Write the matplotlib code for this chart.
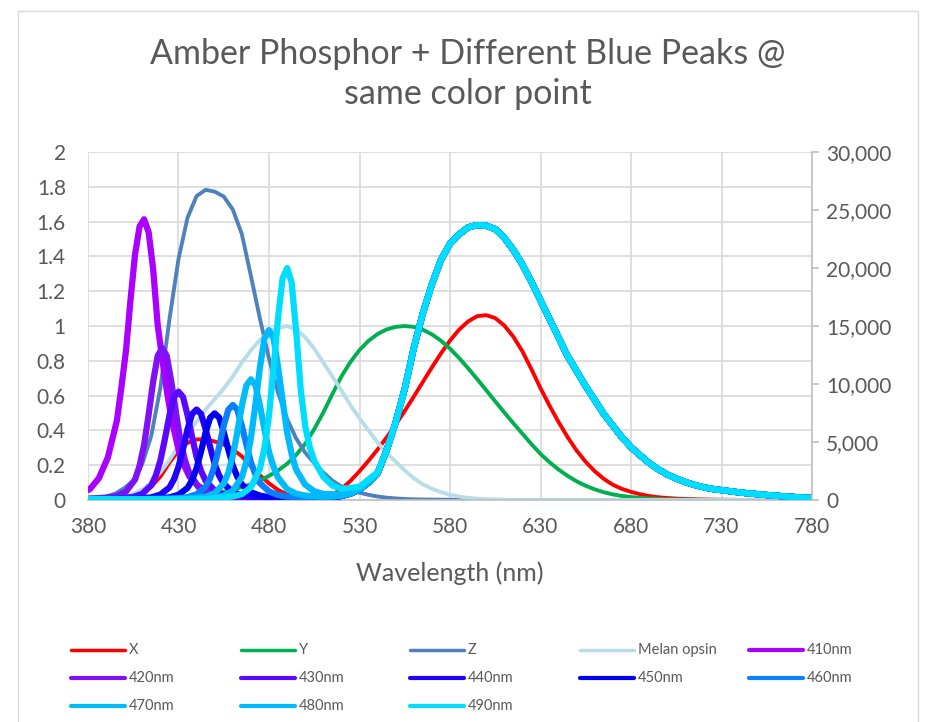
import matplotlib.pyplot as plt
import numpy as np
from matplotlib.lines import Line2D
from matplotlib.patches import Rectangle

plt.rcParams['font.family'] = ['Lato', 'DejaVu Sans']

GREY_TXT = '#595959'
GRID = '#D9D9D9'
AXIS = '#BFBFBF'

# wavelength grid of the broad curves (nm)
wavelength = np.arange(380, 781, 5)

# CIE colour matching functions (left axis)
cie_x = [0.0014, 0.0022, 0.0042, 0.0077, 0.0143, 0.0232, 0.0435, 0.0776, 0.1344, 0.2148,
         0.2839, 0.3285, 0.3483, 0.3481, 0.3362, 0.3187, 0.2908, 0.2511, 0.1954, 0.1421,
         0.0956, 0.0580, 0.0320, 0.0147, 0.0049, 0.0024, 0.0093, 0.0291, 0.0633, 0.1096,
         0.1655, 0.2258, 0.2904, 0.3597, 0.4335, 0.5121, 0.5945, 0.6784, 0.7621, 0.8425,
         0.9163, 0.9786, 1.0263, 1.0567, 1.0622, 1.0456, 1.0026, 0.9384, 0.8545, 0.7514,
         0.6424, 0.5419, 0.4479, 0.3608, 0.2835, 0.2187, 0.1649, 0.1212, 0.0874, 0.0636,
         0.0468, 0.0329, 0.0227, 0.0158, 0.0114, 0.0081, 0.0058, 0.0041, 0.0029, 0.0020,
         0.0014, 0.0010, 0.0007, 0.0005, 0.0003, 0.0002, 0.0002, 0.0001, 0.0001, 0.0001,
         0.0000]
cie_y = [0.0000, 0.0001, 0.0001, 0.0002, 0.0004, 0.0006, 0.0012, 0.0022, 0.0040, 0.0073,
         0.0116, 0.0168, 0.0230, 0.0298, 0.0380, 0.0480, 0.0600, 0.0739, 0.0910, 0.1126,
         0.1390, 0.1693, 0.2080, 0.2586, 0.3230, 0.4073, 0.5030, 0.6082, 0.7100, 0.7932,
         0.8620, 0.9149, 0.9540, 0.9803, 0.9950, 1.0000, 0.9950, 0.9786, 0.9520, 0.9154,
         0.8700, 0.8163, 0.7570, 0.6949, 0.6310, 0.5668, 0.5030, 0.4412, 0.3810, 0.3210,
         0.2650, 0.2170, 0.1750, 0.1382, 0.1070, 0.0816, 0.0610, 0.0446, 0.0320, 0.0232,
         0.0170, 0.0119, 0.0082, 0.0057, 0.0041, 0.0029, 0.0021, 0.0015, 0.0010, 0.0007,
         0.0005, 0.0004, 0.0002, 0.0002, 0.0001, 0.0001, 0.0001, 0.0000, 0.0000, 0.0000,
         0.0000]
cie_z = [0.0065, 0.0106, 0.0201, 0.0362, 0.0679, 0.1102, 0.2074, 0.3713, 0.6456, 1.0391,
         1.3856, 1.6230, 1.7471, 1.7826, 1.7721, 1.7441, 1.6692, 1.5281, 1.2876, 1.0419,
         0.8130, 0.6162, 0.4652, 0.3533, 0.2720, 0.2123, 0.1582, 0.1117, 0.0783, 0.0573,
         0.0422, 0.0298, 0.0203, 0.0134, 0.0088, 0.0058, 0.0039, 0.0028, 0.0021, 0.0018,
         0.0017, 0.0014, 0.0011, 0.0010, 0.0008, 0.0006, 0.0003, 0.0002, 0.0002, 0.0001,
         0.0001, 0.0000, 0.0000, 0.0000, 0.0000, 0.0000, 0.0000, 0.0000, 0.0000, 0.0000,
         0.0000, 0.0000, 0.0000, 0.0000, 0.0000, 0.0000, 0.0000, 0.0000, 0.0000, 0.0000,
         0.0000, 0.0000, 0.0000, 0.0000, 0.0000, 0.0000, 0.0000, 0.0000, 0.0000, 0.0000,
         0.0000]
melanopsin = [0.0, 0.005, 0.01, 0.015, 0.02, 0.035, 0.06, 0.10, 0.16, 0.23,
              0.31, 0.38, 0.45, 0.52, 0.58, 0.64, 0.71, 0.79, 0.86, 0.92,
              0.965, 0.99, 1.0, 0.98, 0.935, 0.87, 0.79, 0.71, 0.63, 0.545,
              0.47, 0.40, 0.33, 0.27, 0.22, 0.17, 0.125, 0.09, 0.065, 0.045,
              0.03, 0.02, 0.012, 0.008, 0.005, 0.003, 0.002] + [0.0] * 34

# amber phosphor part, shared by every spectrum (right axis)
phosphor = [80] * 21 + [
    90, 110, 130, 150, 170, 200, 250, 350, 550, 900,
    1500, 2300, 4300, 6700, 9600, 13100, 16100, 18600, 20700, 22100,
    22900, 23500, 23700, 23650, 23350, 22600, 21550, 20300, 18800, 17200,
    15600, 14000, 12400, 11100, 9800, 8600, 7400, 6400, 5400, 4550,
    3850, 3200, 2650, 2200, 1850, 1550, 1300, 1100, 950, 850,
    750, 650, 570, 500, 430, 370, 310, 260, 210, 170]

# blue peaks: values around each peak (nm offsets from the peak)
led_offsets = [-40, -30, -25, -20, -15, -12.5, -10, -7.5, -5, -2.5, 0,
               2.5, 5, 7.5, 10, 12.5, 15, 20, 25, 30, 40, 50]
led_peaks = [411, 421, 430, 440, 450, 460, 470, 480, 490]
led_410 = [320, 930, 1880, 3680, 6880, 9780, 12880, 17280, 21180, 23580, 24200,
           23080, 19880, 15080, 12180, 9480, 7080, 3680, 2030, 1180, 480, 280]
led_420 = [120, 210, 340, 730, 1770, 2940, 4760, 7360, 10220, 12430, 13080,
           12430, 10220, 7620, 5150, 3460, 2290, 1120, 600, 370, 180, 120]
led_430 = [110, 170, 270, 540, 1280, 2120, 3410, 5270, 7300, 8880, 9340,
           8880, 7300, 5450, 3690, 2490, 1650, 820, 450, 280, 150, 110]
led_440 = [100, 160, 230, 470, 1080, 1780, 2860, 4400, 6100, 7410, 7800,
           7410, 6100, 4560, 3090, 2090, 1390, 700, 390, 250, 140, 120]
led_450 = [100, 150, 230, 450, 1040, 1710, 2740, 4220, 5840, 7100, 7470,
           7100, 5840, 4370, 2960, 2000, 1340, 670, 380, 240, 130, 160]
led_460 = [110, 160, 240, 490, 1130, 1860, 3000, 4620, 6410, 7780, 8190,
           7780, 6410, 4780, 3240, 2190, 1460, 730, 430, 290, 215, 225]
led_470 = [110, 180, 290, 600, 1420, 2350, 3800, 5860, 8130, 9880, 10400,
           9900, 8140, 6070, 4150, 2850, 1940, 940, 540, 380, 280, 380]
led_480 = [120, 230, 370, 810, 1970, 3290, 5330, 8240, 11440, 13920, 14650,
           13950, 11480, 8600, 5840, 3950, 2610, 1320, 750, 520, 470, 940]
led_490 = [160, 300, 500, 1100, 2700, 4500, 7300, 11300, 15700, 19100, 20000,
           18750, 14550, 9550, 6350, 4550, 3370, 2000, 1250, 950, 1140, 2400]
led_values = [led_410, led_420, led_430, led_440, led_450,
              led_460, led_470, led_480, led_490]
led_labels = ['410nm', '420nm', '430nm', '440nm', '450nm',
              '460nm', '470nm', '480nm', '490nm']
led_colors = ['#AA00FF', '#8010F5', '#5A08FF', '#2200FF', '#0000F0',
              '#0A80FF', '#00BCF8', '#00BAFF', '#00DDFF']

broad_labels = ['X', 'Y', 'Z', 'Melan opsin']
broad_values = [cie_x, cie_y, cie_z, melanopsin]
broad_colors = ['#FF0000', '#00B050', '#4F81BD', '#B7DEE8']


def led_spectrum(peak, values):
    wl_win = peak + np.array(led_offsets)
    ph = np.array(phosphor)
    before = wavelength < wl_win[0]
    after = wavelength > wl_win[-1]
    wl = np.concatenate([wavelength[before], wl_win, wavelength[after]])
    val = np.concatenate([ph[before], values, ph[after]])
    return wl, val


W, H = 932, 722
fig = plt.figure(figsize=(W / 100, H / 100), dpi=100)
ax = fig.add_axes([88 / W, (H - 500) / H, 724 / W, 348 / H])

for lab, vals, col in zip(broad_labels, broad_values, broad_colors):
    ax.plot(wavelength, vals, color=col, lw=2.8, solid_joinstyle='round')

ax.set_xlim(380, 780)
ax.set_ylim(0, 2)
ax.set_xticks(range(380, 781, 50))
ax.set_yticks(np.arange(0, 2.01, 0.2))
ax.set_yticklabels([f'{v:g}' for v in np.arange(0, 2.01, 0.2).round(1)])
ax.grid(True, color=GRID, lw=1.2)
ax.set_axisbelow(True)
ax.tick_params(axis='both', length=0, labelsize=15, colors=GREY_TXT)
ax.tick_params(axis='x', pad=12)
ax.tick_params(axis='y', pad=16)
for s in ['top', 'left', 'right']:
    ax.spines[s].set_visible(False)
ax.spines['bottom'].set_color(AXIS)
ax.spines['bottom'].set_linewidth(1.2)
ax.set_xlabel('Wavelength (nm)', fontsize=18, color=GREY_TXT, va='center')
ax.xaxis.set_label_coords(0.5, -(573 - 500) / 348)

ax2 = ax.twinx()
for peak, vals, col in zip(led_peaks, led_values, led_colors):
    wl, val = led_spectrum(peak, vals)
    ax2.plot(wl, val, color=col, lw=4.5, solid_joinstyle='round', solid_capstyle='round')
ax2.set_ylim(0, 30000)
ax2.set_xlim(380, 780)
ax2.set_yticks(range(0, 30001, 5000))
ax2.set_yticklabels([f'{v:,}' for v in range(0, 30001, 5000)])
ax2.tick_params(axis='y', length=5, width=1.2, color=AXIS, labelsize=15,
                labelcolor=GREY_TXT, pad=5)
for s in ['top', 'left', 'bottom']:
    ax2.spines[s].set_visible(False)
ax2.spines['right'].set_color(AXIS)
ax2.spines['right'].set_linewidth(1.2)

fig.text(468 / W, 1 - 74 / H, 'Amber Phosphor + Different Blue Peaks @\nsame color point',
         ha='center', va='center', fontsize=24.5, color=GREY_TXT, linespacing=1.32)

# legend, 5 columns like the spreadsheet
all_labels = broad_labels + led_labels
all_colors = broad_colors + led_colors
all_lw = [2.5] * 4 + [3.0] * 9
for i, (lab, col, lw) in enumerate(zip(all_labels, all_colors, all_lw)):
    r, c = divmod(i, 5)
    x0 = 71 + c * 169.5
    y0 = 650 + r * 28
    fig.add_artist(Line2D([x0 / W, (x0 + 54) / W], [1 - y0 / H] * 2,
                          transform=fig.transFigure, color=col, lw=lw,
                          solid_capstyle='round'))
    fig.text((x0 + 58) / W, 1 - y0 / H, lab, ha='left', va='center',
             fontsize=10.5, color=GREY_TXT)

fig.add_artist(Rectangle((18 / W, -0.05), 900 / W, 1.05 - 11 / H,
                         transform=fig.transFigure, fill=False, ec=GRID, lw=1))

fig.savefig('out.png', dpi=100)
